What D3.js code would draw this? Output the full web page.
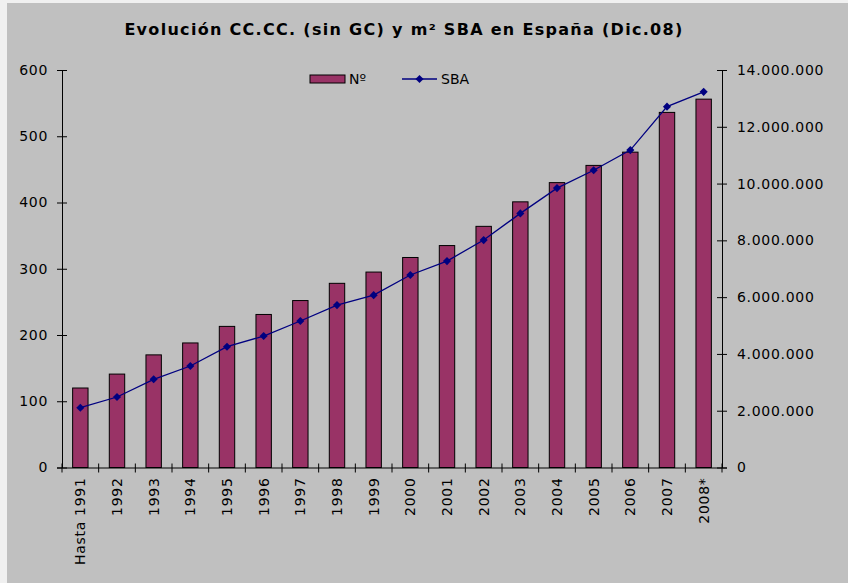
<!DOCTYPE html>
<html>
<head>
<meta charset="utf-8">
<script src="https://cdn.jsdelivr.net/npm/d3@7"></script>
<style>
  body { margin: 0; background: #f0f0f0; }
  text { font-family: "DejaVu Sans", Verdana, sans-serif; fill: #000; }
</style>
</head>
<body>
<svg id="chart"></svg>
<script>
// chart values
var years = ["Hasta 1991", "1992", "1993", "1994", "1995", "1996", "1997", "1998", "1999",
             "2000", "2001", "2002", "2003", "2004", "2005", "2006", "2007", "2008*"];
var numCentros = [120, 141, 170, 188, 213, 231, 252, 278, 295,
                  317, 335, 364, 401, 430, 456, 476, 536, 556];
var sba = [2106000, 2483000, 3106000, 3575000, 4255000, 4631000, 5160000, 5720000, 6070000,
           6780000, 7270000, 8010000, 8950000, 9840000, 10470000, 11180000, 12710000, 13230000];
var leftTicks = [0, 100, 200, 300, 400, 500, 600];
var rightTicks = [0, 2000000, 4000000, 6000000, 8000000, 10000000, 12000000, 14000000];

var W = 848, H = 583;
var margin = {top: 70, right: 126, bottom: 115.5, left: 62},
    width = W - margin.left - margin.right,
    height = H - margin.top - margin.bottom;

var es = d3.formatLocale({decimal: ",", thousands: ".", grouping: [3], currency: ["", " €"]});
var fmt = es.format(",d");

var svg = d3.select("#chart")
    .attr("width", W)
    .attr("height", H);

// gray chart background
svg.append("rect")
    .attr("x", 7).attr("y", 3)
    .attr("width", W - 7).attr("height", H - 3)
    .attr("fill", "#c0c0c0");

svg.append("text")
    .attr("x", 404)
    .attr("y", 35)
    .attr("text-anchor", "middle")
    .style("font-size", "16px")
    .style("font-weight", "bold")
    .style("letter-spacing", "1.3px")
    .text("Evolución CC.CC. (sin GC) y m² SBA en España (Dic.08)");

var g = svg.append("g")
    .attr("transform", "translate(" + margin.left + "," + margin.top + ")");

var x = d3.scaleBand().domain(years).range([0, width]).padding(0);
var yL = d3.scaleLinear().domain([0, 600]).range([height, 0]);
var yR = d3.scaleLinear().domain([0, 14000000]).range([height, 0]);

var barW = x.bandwidth() * 0.42;

// bars
g.selectAll("rect.bar")
    .data(numCentros)
    .enter().append("rect")
    .attr("class", "bar")
    .attr("x", function(d, i) { return x(years[i]) + (x.bandwidth() - barW) / 2; })
    .attr("y", function(d) { return yL(d); })
    .attr("width", barW)
    .attr("height", function(d) { return height - yL(d); })
    .attr("fill", "#993366")
    .attr("stroke", "#000")
    .attr("stroke-width", 1);

// SBA line
var line = d3.line()
    .x(function(d, i) { return x(years[i]) + x.bandwidth() / 2; })
    .y(function(d) { return yR(d); });

g.append("path")
    .datum(sba)
    .attr("fill", "none")
    .attr("stroke", "#000080")
    .attr("stroke-width", 1.3)
    .attr("d", line);

var diamond = d3.symbol().type(d3.symbolDiamond2).size(42);
g.selectAll("path.pt")
    .data(sba)
    .enter().append("path")
    .attr("class", "pt")
    .attr("d", diamond)
    .attr("transform", function(d, i) {
      return "translate(" + (x(years[i]) + x.bandwidth() / 2) + "," + yR(d) + ")";
    })
    .attr("fill", "#000080");

// axes
var axL = g.append("g")
    .call(d3.axisLeft(yL).tickValues(leftTicks).tickSize(5).tickPadding(9));
axL.selectAll(".tick line").attr("x1", 5);

var axR = g.append("g")
    .attr("transform", "translate(" + width + ",0)")
    .call(d3.axisRight(yR).tickValues(rightTicks).tickFormat(fmt).tickSize(5).tickPadding(10));
axR.selectAll(".tick line").attr("x1", -5);

var axB = g.append("g")
    .attr("transform", "translate(0," + height + ")")
    .call(d3.axisBottom(x).tickSize(0).tickPadding(0));
axB.selectAll(".tick text")
    .attr("transform", "rotate(-90)")
    .attr("text-anchor", "end")
    .attr("x", -10)
    .attr("y", 0)
    .attr("dy", "0.35em");

// category boundary ticks
var bounds = years.map(function(d) { return x(d); }).concat([width]);
axB.selectAll("line.bt")
    .data(bounds)
    .enter().append("line")
    .attr("class", "bt")
    .attr("x1", function(d) { return d; })
    .attr("x2", function(d) { return d; })
    .attr("y1", -4)
    .attr("y2", 5)
    .attr("stroke", "#000");

svg.selectAll(".domain").attr("stroke", "#000");
svg.selectAll(".tick line").attr("stroke", "#000");
svg.selectAll(".tick text")
    .style("font-size", "14px")
    .style("letter-spacing", "0.7px")
    .style("font-family", "DejaVu Sans, Verdana, sans-serif");

// legend
var leg = svg.append("g");
leg.append("rect")
    .attr("x", 310).attr("y", 75)
    .attr("width", 35).attr("height", 8)
    .attr("fill", "#993366")
    .attr("stroke", "#000");
leg.append("text")
    .attr("x", 349).attr("y", 84)
    .style("font-size", "14px")
    .text("Nº");
leg.append("line")
    .attr("x1", 402).attr("x2", 437)
    .attr("y1", 79).attr("y2", 79)
    .attr("stroke", "#000080")
    .attr("stroke-width", 1.3);
leg.append("path")
    .attr("d", diamond)
    .attr("transform", "translate(419.5,79)")
    .attr("fill", "#000080");
leg.append("text")
    .attr("x", 441).attr("y", 84)
    .style("font-size", "14px")
    .text("SBA");
</script>
</body>
</html>
